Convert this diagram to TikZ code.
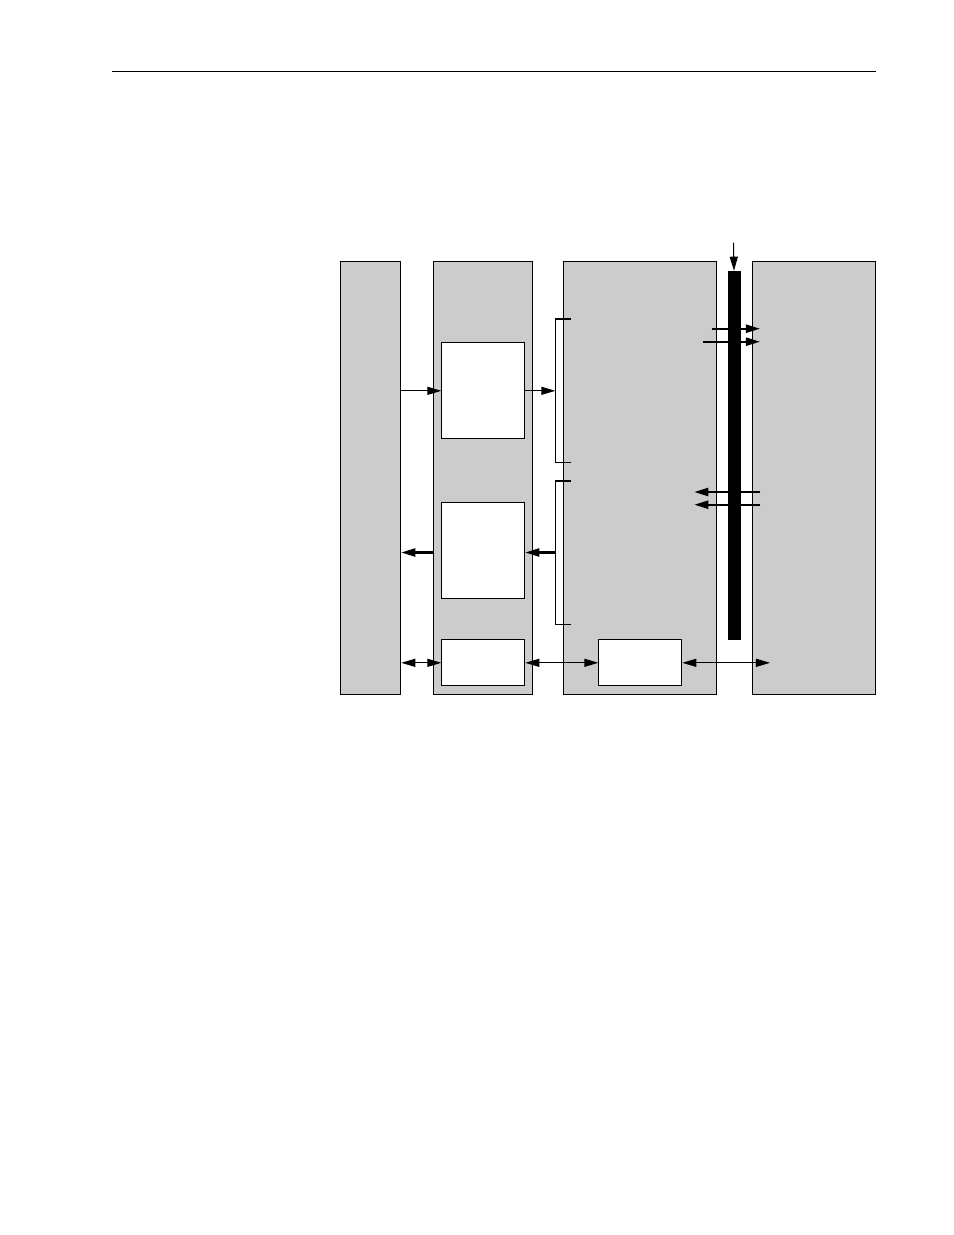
\documentclass[tikz,border=0pt]{standalone}
\usetikzlibrary{positioning,arrows.meta}
\newcommand{\px}{0.642pt}

\begin{document}
\begin{tikzpicture}[x=\px, y=-\px, line width=.65pt, >={Triangle[length=9pt,width=5.2pt]},
		col/.style={draw, fill=black!20, anchor=north west, inner sep=0pt, minimum height=433*\px},
		b/.style={draw, fill=white, anchor=north west, inner sep=0pt, minimum width=83*\px},
		s/.style={line width=1.3pt}]
	\useasboundingbox (0,0) rectangle (954,1235);
	\coordinate (ruleL) at (112,71);
	\coordinate (ruleR) at (876,71);
	\draw (ruleL) -- (ruleR);

	\node[col, minimum width=60*\px] (col1) at (340.3,261.3) {};
	\node[col, minimum width=99*\px] (col2) at (433.3,261.3) {};
	\node[col, minimum width=153*\px] (col3) at (563.3,261.3) {};
	\node[col, minimum width=122.4*\px] (col4) at (752.3,261.3) {};
	\node[b, minimum height=96*\px] (box1) at (441.3,342.3) {};
	\node[b, minimum height=96*\px] (box2) at (441.3,502.3) {};
	\node[b, minimum height=46*\px] (box3) at (441.3,639.3) {};
	\node[b, minimum height=46*\px] (box4) at (598.3,639.3) {};
	\node[fill=black, anchor=north west, inner sep=0pt, minimum width=13*\px, minimum height=368.3*\px] (bar) at (727,270.7) {};

	\coordinate (brA_t) at (571,318.7);
	\coordinate (brA_b) at (571,462.3);
	\coordinate (brA) at (555.3,390.3);
	\coordinate (brB_t) at (571,480.7);
	\coordinate (brB_b) at (571,624.3);
	\coordinate (brB) at (555.3,552.5);
	\draw[s] (brA_t) -- (brA_t -| brA);
	\draw (brA_t -| brA) -- (brA_b -| brA) -- (brA_b);
	\draw[s] (brB_t) -- (brB_t -| brB);
	\draw (brB_t -| brB) -- (brB_b -| brB) -- (brB_b);

	\draw[->] (col1.east |- box1.west) -- (box1.west);
	\draw[->] (box1.east) -- (box1.east -| brA);
	\draw[s, ->] (brB) -- (brB -| box2.east);
	\draw[s, ->] (brB -| col2.west) -- (brB -| col1.east);
	\draw[<->] (col1.east |- box3.west) -- (box3.west);
	\draw[<->] (box3.east) -- (box4.west);

	\coordinate (feed) at (733.5,242.7);
	\draw[->] (feed) -- (bar.north);
	\coordinate (o1) at (711.7,328.7);
	\coordinate (o1e) at (760,328.7);
	\coordinate (o2) at (703.3,341.7);
	\coordinate (o2e) at (760,341.7);
	\draw[s, ->] (o1) -- (o1e);
	\draw[s, ->] (o2) -- (o2e);
	\coordinate (i1) at (760.3,492);
	\coordinate (i1e) at (694.3,492);
	\coordinate (i2) at (760.3,504.7);
	\coordinate (i2e) at (694.3,504.7);
	\draw[s, ->] (i1) -- (i1e);
	\draw[s, ->] (i2) -- (i2e);
	\coordinate (x4) at (770,662.3);
	\draw[<->] (box4.east) -- (box4.east -| x4);
\end{tikzpicture}
\end{document}
